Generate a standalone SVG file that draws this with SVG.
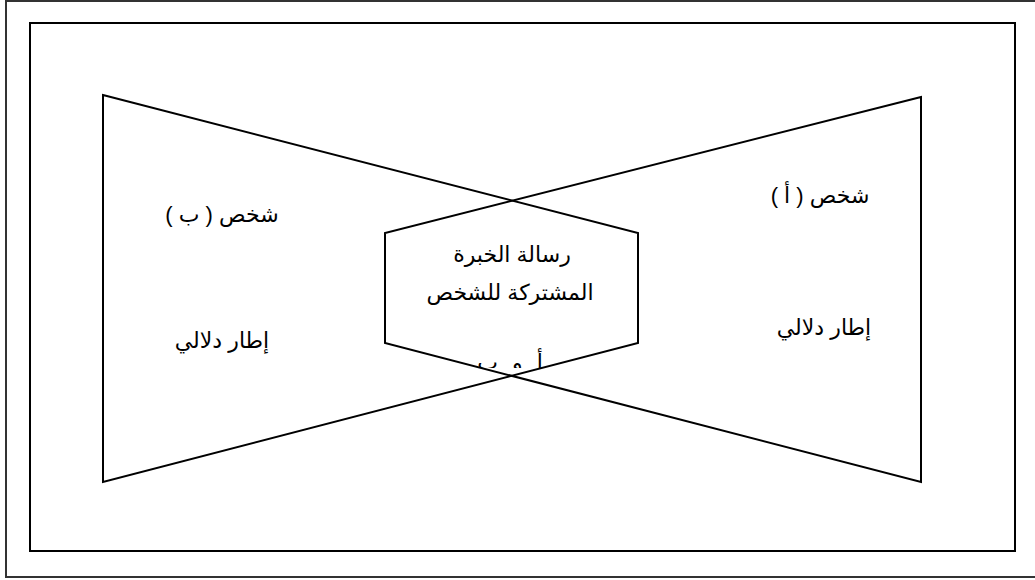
<svg xmlns="http://www.w3.org/2000/svg" width="1035" height="580" viewBox="0 0 1035 580">
<style>
.frame{fill:none;stroke:#000;stroke-width:2}
.outer{fill:none;stroke:#333;stroke-width:2}
.shape{fill:none;stroke:#000;stroke-width:2;stroke-linejoin:miter}
.t{font-family:"Liberation Sans","DejaVu Sans",Arial,sans-serif;font-size:22px;fill:#000;text-anchor:middle}
</style>
<defs>
<clipPath id="clipAB"><rect x="400" y="340" width="230" height="28"/></clipPath>
</defs>
<rect class="outer" x="6" y="1" width="1040" height="576"/>
<rect class="frame" x="30" y="23" width="985" height="528"/>
<g id="connectors">
<polygon id="left-frame" class="shape" points="103,95 638,233 638,343 103,482"/>
<polygon id="right-frame" class="shape" points="921,97 385,233 385,343 921,482"/>
</g>
<g id="person-b">
<text class="t" x="222" y="222" direction="rtl">شخص ( ب )</text>
<text class="t" x="222" y="348" direction="rtl">إطار دلالي</text>
</g>
<g id="person-a">
<text class="t" x="820" y="203" direction="rtl">شخص ( أ )</text>
<text class="t" x="824" y="335" direction="rtl">إطار دلالي</text>
</g>
<g id="shared">
<text class="t" x="512" y="262" direction="rtl">رسالة الخبرة</text>
<text class="t" x="510" y="300" direction="rtl">المشتركة للشخص</text>
<text class="t" x="510" y="370" direction="rtl" word-spacing="8" clip-path="url(#clipAB)">أ و ب</text>
</g>
</svg>
